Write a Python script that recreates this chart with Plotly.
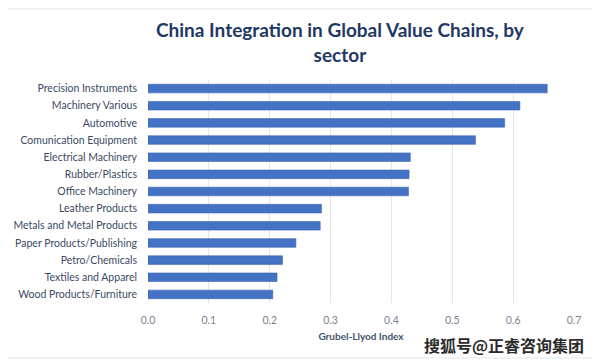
import plotly.graph_objects as go

categories = [
    "Precision Instruments", "Machinery Various", "Automotive", "Comunication Equipment",
    "Electrical Machinery", "Rubber/Plastics", "Office Machinery", "Leather Products",
    "Metals and Metal Products", "Paper Products/Publishing", "Petro/Chemicals",
    "Textiles and Apparel", "Wood Products/Furniture",
]
values = [0.656, 0.611, 0.586, 0.538, 0.431, 0.429, 0.428, 0.285, 0.283, 0.243, 0.221, 0.212, 0.205]
tick_vals = [0, 0.1, 0.2, 0.3, 0.4, 0.5, 0.6, 0.7]
tick_text = ["0.0", "0.1", "0.2", "0.3", "0.4", "0.5", "0.6", "0.7"]

# page body has an 8px default margin, so positions are offset by 8px
L, T, PW, PH = 140, 72, 426, 223

fig = go.Figure(go.Bar(
    x=values, y=categories, orientation="h",
    marker=dict(color="#4472C4", line=dict(color="#3A64AE", width=0.6)),
))

def px_x(x):
    return (x - 8 - L) / PW

def px_y(y):
    return (T + PH - (y - 8)) / PH

fig.update_layout(
    width=600, height=363,
    margin=dict(l=L, r=600 - L - PW, t=T, b=363 - T - PH, autoexpand=False),
    paper_bgcolor="white", plot_bgcolor="white",
    bargap=0.5,
    showlegend=False,
    font=dict(family="Lato, Open Sans, sans-serif"),
    xaxis=dict(
        range=[0, 0.7], tickvals=tick_vals, ticktext=tick_text,
        showgrid=True, gridcolor="#E3E6EC", gridwidth=1, zeroline=False,
        showline=False, ticks="", ticklabelstandoff=9,
        tickfont=dict(size=10.5, color="#7A8494"),
        title=dict(text="<b>Grubel-Llyod Index</b>", font=dict(size=10, color="#44546A"), standoff=8),
    ),
    yaxis=dict(
        autorange="reversed", showgrid=False, zeroline=False, showline=False,
        ticks="", ticklabelstandoff=10,
        tickfont=dict(size=10.5, color="#3B4A63"),
    ),
    shapes=[dict(
        type="rect", xref="paper", yref="paper",
        x0=px_x(5), x1=px_x(595), y0=px_y(358), y1=px_y(9),
        line=dict(color="#E2E5EA", width=1), fillcolor="rgba(0,0,0,0)", layer="below",
    )],
    annotations=[
        dict(text="<b>China Integration in Global Value Chains, by<br>sector</b>",
             xref="paper", yref="paper", x=px_x(340), y=px_y(16),
             xanchor="center", yanchor="top", showarrow=False, align="center",
             font=dict(size=19, color="#1F3864", family="Lato, Open Sans, sans-serif")),
        dict(text="<b>搜狐号@正睿咨询集团</b>",
             xref="paper", yref="paper", x=px_x(586), y=px_y(345),
             xanchor="right", yanchor="middle", showarrow=False,
             font=dict(size=16, color="#2B2B2B", family="Noto Sans CJK SC")),
    ],
)

fig.write_html("out.html")
